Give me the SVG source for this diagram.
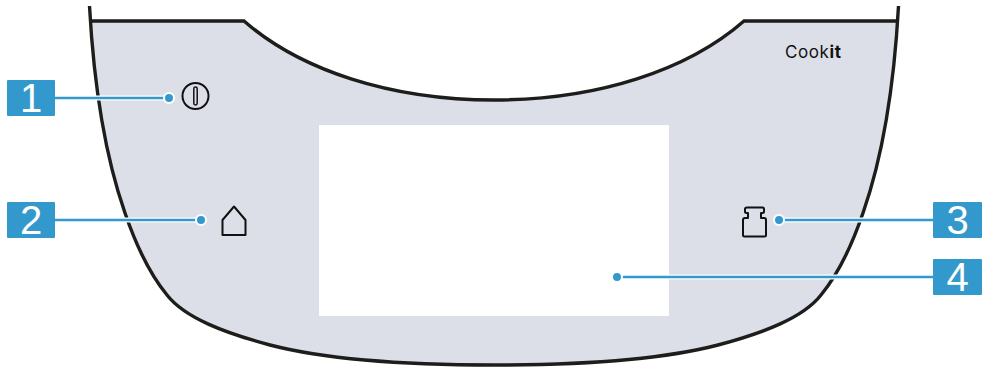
<svg xmlns="http://www.w3.org/2000/svg" width="987" height="368" viewBox="0 0 987 368">
<style>
.out{fill:none;stroke:#1d1d1b;stroke-width:3.400}
.ic{fill:none;stroke:#111;stroke-width:2;stroke-linejoin:round}
.halo{stroke:#fff;stroke-width:5;fill:none}
.lead{stroke:#3399cc;stroke-width:2.400;fill:none}
.dot{fill:#3399cc;stroke:#fff;stroke-width:2}
.badge{fill:#3399cc}
.num{fill:#fff;font:40px "Liberation Sans",Arial,sans-serif;text-anchor:middle}
</style>
<g id="panel">
<path d="M91 21H244C300 70 390 100 494 100C598 100 688 70 744 21H897C893 80 885 150 863 213C852 245 840 272 821 295C803 318 763 333 718 345C668 358 588 365 494 365C400 365 320 358 270 345C225 333 185 318 167 295C148 272 136 245 125 213C103 150 95 80 91 21Z" fill="#dcdfe7"/>
<path class="out" d="M89.500 6C93 70 103 150 125 213C136 245 148 272 167 295C185 318 225 333 270 345C320 358 400 365 494 365C588 365 668 358 718 345C763 333 803 318 821 295C840 272 852 245 863 213C885 150 895 70 898.500 6"/>
<path class="out" d="M91 21H244C300 70 390 100 494 100C598 100 688 70 744 21H897"/>
<rect x="319" y="125" width="350" height="191" fill="#fff"/>
<text x="785" y="58" font-family="'Inter','Liberation Sans',sans-serif" font-size="17" letter-spacing="0.600" fill="#111">Cook<tspan font-weight="700">it</tspan></text>
</g>
<g id="icon-power">
<circle class="ic" cx="195.500" cy="96" r="13"/>
<rect x="193.800" y="87" width="3.400" height="18" rx="1.700" fill="none" stroke="#111" stroke-width="1.500"/>
</g>
<g id="icon-home"><path class="ic" d="M222.500 235V220L234 206.500L245.500 220V235Z"/></g>
<g id="icon-weight"><path class="ic" d="M747 207.500H762.500Q764 207.500 764 209V211.500Q764 213 762.500 213H761V218H764Q766 218 766 220V235Q766 236.500 764.500 236.500H744.500Q743 236.500 743 235V220Q743 218 745 218H748V213H746.500Q745 213 745 211.500V209Q745 207.500 747 207.500Z"/></g>
<g id="connectors">
<path class="halo" d="M55 98H169M55 220H201M779 220H933M617 277H933"/>
<path class="lead" d="M55 98H169M55 220H201M779 220H933M617 277H933"/>
<circle class="dot" cx="169" cy="98" r="5"/>
<circle class="dot" cx="201" cy="220" r="5"/>
<circle class="dot" cx="779" cy="220" r="5"/>
<circle class="dot" cx="617" cy="277" r="5"/>
</g>
<g id="badge-1"><rect class="badge" x="7" y="80" width="48" height="36" rx="1"/><text class="num" x="31" y="112">1</text></g>
<g id="badge-2"><rect class="badge" x="7" y="202" width="48" height="36" rx="1"/><text class="num" x="31" y="234">2</text></g>
<g id="badge-3"><rect class="badge" x="933" y="202" width="49" height="36" rx="1"/><text class="num" x="957.500" y="234">3</text></g>
<g id="badge-4"><rect class="badge" x="933" y="259" width="49" height="36" rx="1"/><text class="num" x="957.500" y="291">4</text></g>
</svg>
